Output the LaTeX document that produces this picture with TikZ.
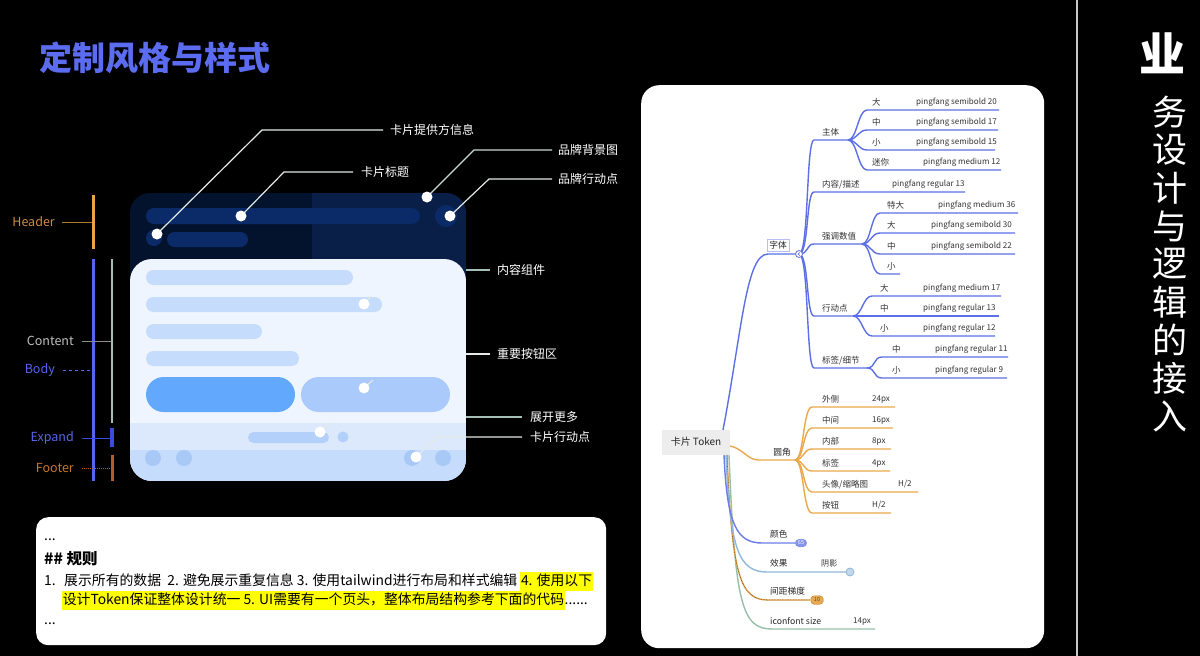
\documentclass[tikz,border=0pt]{standalone}
\usepackage{fontspec}
\setmainfont{Noto Sans CJK SC}
\usetikzlibrary{calc}
\definecolor{titlec}{HTML}{5B6CF0}
\definecolor{hdrL}{HTML}{03132E}
\definecolor{hdrR}{HTML}{0A1F48}
\definecolor{hbar}{HTML}{0B2A68}
\definecolor{bodyc}{HTML}{EEF5FE}
\definecolor{expc}{HTML}{DCE9FD}
\definecolor{footc}{HTML}{C6DCFC}
\definecolor{cbar}{HTML}{C5DCFC}
\definecolor{btnA}{HTML}{62A9FD}
\definecolor{btnB}{HTML}{A9CAFB}
\definecolor{fcirc}{HTML}{A8C8F6}
\definecolor{leadc}{HTML}{E2EAE6}
\definecolor{greenl}{HTML}{A6BFB5}
\definecolor{hdrorange}{HTML}{E8A447}
\definecolor{hdrtext}{HTML}{D08A3C}
\definecolor{bodyblue}{HTML}{5566EE}
\definecolor{expblue}{HTML}{3A4BE0}
\definecolor{footbrown}{HTML}{B85C22}
\definecolor{foottext}{HTML}{C8782A}
\definecolor{mmblue}{HTML}{5C6FE6}
\definecolor{mmorange}{HTML}{E9A84C}
\definecolor{mmlblue}{HTML}{90B8D8}
\definecolor{mmgreen}{HTML}{98C0A8}
\definecolor{mmtext}{HTML}{333333}
\definecolor{rootc}{HTML}{EDEDED}
\definecolor{hly}{HTML}{FFFF00}
\definecolor{sepc}{HTML}{C8C8C8}
\newcommand{\hlbox}[1]{{\setlength{\fboxsep}{0.6pt}\colorbox{hly}{\strut #1}}}
\newcommand{\mmgroup}[6]{%
  \foreach \i/\yy/\lab/\vx/\val/\ex in {#6}{
    \coordinate (#1\i s) at (#3,\yy);
    \coordinate (#1\i e) at (\ex,\yy);
    \draw[#5] (#2) .. controls +(9,0) and +(-9,0) .. (#1\i s) -- (#1\i e);
    \node[mmlab] (#1\i l) at (#4,\yy-7.5) {\lab};
    \node[mmval] (#1\i v) at (\vx,\yy-7.5) {\val};
  }}
\tikzset{
  clab/.style={anchor=west, inner sep=0, text=white, font=\fontsize{12}{14}\selectfont},
  sidelab/.style={anchor=east, inner sep=0, font=\fontsize{12.5}{14}\selectfont},
  lead/.style={draw=leadc, line width=1.2},
  wdot/.style={circle, fill=white, minimum size=11, inner sep=0},
  mmlab/.style={anchor=west, inner sep=0, font=\fontsize{8.5}{10}\selectfont, text=mmtext},
  mmval/.style={anchor=west, inner sep=0, font=\fontsize{8.05}{10}\selectfont, text=mmtext},
  mmcat/.style={anchor=west, inner sep=0, font=\fontsize{8.7}{10}\selectfont, text=black!85},
  bl/.style={draw=mmblue, line width=1.4},
  orl/.style={draw=mmorange, line width=1.4},
  rulestxt/.style={anchor=base west, inner sep=0, text=black, font=\fontsize{13.85}{18}\selectfont},
}
\begin{document}
\begin{tikzpicture}[x=1pt,y=-1pt]
\useasboundingbox (0,0) rectangle (1200,656);
\fill[black] (0,0) rectangle (1200,656);

% ---------- title ----------
\node[anchor=west, inner sep=0, text=titlec, font=\fontsize{33}{36}\selectfont\bfseries] (title) at (39,58) {定制风格与样式};

% ---------- sidebar ----------
\draw[sepc, line width=1.5] (1077,0) -- (1077,656);
\node[text=white, font=\fontsize{46}{46}\selectfont\bfseries, inner sep=0] (ye) at (1162,53) {业};
\foreach \c [count=\k from 0] in {务,设,计,与,逻,辑,的,接,入}{
  \node[text=white, font=\fontsize{35}{35}\selectfont, inner sep=0] (sb\k) at (1170,{112+38*\k}) {\c};
}

% ---------- header card ----------
\begin{scope}
  \clip[rounded corners=20] (130,193) rectangle (466,340);
  \fill[hdrL] (130,193) rectangle (312,340);
  \fill[hdrR] (312,193) rectangle (466,340);
\end{scope}
\fill[hbar, rounded corners=8] (146,208) rectangle (420,224);
\fill[hbar] (446,216) circle (11);
\fill[hbar] (154,238) circle (8);
\fill[hbar, rounded corners=7.5] (167,232) rectangle (248,247);

% ---------- body card ----------
\begin{scope}
  \clip[rounded corners=22] (130,259) rectangle (466,481);
  \fill[bodyc] (130,259) rectangle (466,481);
  \fill[expc] (130,423) rectangle (466,450);
  \fill[footc] (130,450) rectangle (466,481);
\end{scope}
\fill[cbar, rounded corners=7.5] (146,270) rectangle (353,285);
\fill[cbar, rounded corners=7.5] (146,297) rectangle (382,312);
\fill[cbar, rounded corners=7.5] (146,324) rectangle (262,339);
\fill[cbar, rounded corners=7.5] (146,351) rectangle (299,366);
\fill[btnA, rounded corners=17.5] (146,377) rectangle (295,412);
\fill[btnB, rounded corners=17.5] (301,377) rectangle (450,412);
\fill[btnB!80!expc, rounded corners=5.5] (248,432) rectangle (329,443);
\fill[btnB!80!expc] (343,437) circle (5.5);
\foreach \fx in {153,184,412,443} \fill[fcirc] (\fx,458) circle (8);

% ---------- card leaders ----------
\coordinate (d1) at (157,234); \coordinate (k1a) at (262,130); \coordinate (k1b) at (383,130);
\coordinate (d2) at (241,216); \coordinate (k2a) at (284,172); \coordinate (k2b) at (353,172);
\coordinate (d3) at (427,197); \coordinate (k3a) at (474,150); \coordinate (k3b) at (552,150);
\coordinate (d4) at (450,216); \coordinate (k4a) at (489,179); \coordinate (k4b) at (552,179);
\draw[lead] (d1) -- (k1a) -- (k1b);
\draw[lead] (d2) -- (k2a) -- (k2b);
\draw[lead, draw=greenl!60!white] (d3) -- (k3a) -- (k3b);
\draw[lead] (d4) -- (k4a) -- (k4b);
\node[clab] (t1) at (390,130) {卡片提供方信息};
\node[clab] (t2) at (361,172) {卡片标题};
\node[clab] (t3) at (558,150) {品牌背景图};
\node[clab] (t4) at (558,179) {品牌行动点};

\coordinate (k5a) at (466,270); \coordinate (k5b) at (490,270);
\coordinate (d5) at (364,304); \coordinate (k5c) at (371,296);
\coordinate (k6a) at (466,354); \coordinate (k6b) at (490,354);
\coordinate (d6) at (364,388); \coordinate (k6c) at (373,380);
\coordinate (k7a) at (466,417); \coordinate (k7b) at (522,417);
\coordinate (d7) at (320,432); \coordinate (k7c) at (330,423);
\coordinate (d8) at (416,457); \coordinate (k8a) at (437,437); \coordinate (k8b) at (522,437);
\draw[lead, draw=greenl] (k5a) -- (k5b);
\draw[lead] (d5) -- (k5c);
\draw[lead] (k6a) -- (k6b);
\draw[lead] (d6) -- (k6c);
\draw[lead, draw=greenl] (k7a) -- (k7b);
\draw[lead] (d7) -- (k7c);
\draw[lead] (d8) -- (k8a) -- (k8b);
\node[clab] (t5) at (497,270) {内容组件};
\node[clab] (t6) at (497,354) {重要按钮区};
\node[clab] (t7) at (530,417) {展开更多};
\node[clab] (t8) at (530,437) {卡片行动点};
\foreach \d in {d1,d2,d3,d4,d5,d6,d7,d8} \node[wdot] (\d w) at (\d) {};

% ---------- left brackets ----------
\draw[hdrorange, line width=3] (93,195) -- (93,249);
\draw[bodyblue, line width=3] (93,259) -- (93,481);
\draw[greenl, line width=2.5] (112,259) -- (112,423);
\draw[expblue, line width=4] (112,428) -- (112,447);
\draw[footbrown, line width=3] (112,455) -- (112,481);
\node[sidelab, text=hdrtext] (lhd) at (55,222) {Header};
\node[sidelab, text=black!25] (lct) at (74,341) {Content};
\node[sidelab, text=bodyblue] (lbd) at (55,370) {Body};
\node[sidelab, text=expblue!85!white] (lex) at (74,438) {Expand};
\node[sidelab, text=foottext] (lft) at (74,468) {Footer};
\coordinate (h1) at (62,222); \coordinate (h2) at (92,222);
\coordinate (c1) at (82,341); \coordinate (c2) at (111,341);
\coordinate (b1) at (63,370); \coordinate (b2) at (92,370);
\coordinate (e1) at (82,438); \coordinate (e2) at (111,438);
\coordinate (f1) at (82,468); \coordinate (f2) at (111,468);
\draw[hdrorange!75!black, line width=0.9] (h1) -- (h2);
\draw[black!45, line width=0.9] (c1) -- (c2);
\draw[bodyblue, line width=0.9, dashed] (b1) -- (b2);
\draw[expblue, line width=0.9] (e1) -- (e2);
\draw[footbrown, line width=0.9, densely dotted] (f1) -- (f2);

% ---------- rules box ----------
\node[fill=white, rounded corners=12, minimum width=570, minimum height=128, inner sep=0, anchor=north west] (rules) at (36,517) {};
\node[rulestxt] (r0) at (44,540) {...};
\node[rulestxt, font=\fontsize{15.5}{18}\selectfont\bfseries] (r1) at (44,564) {\#\# 规则};
\node[rulestxt] (r2a) at (44,585) {1.};
\node[rulestxt] (r2) at (64,585) {展示所有的数据\ \ 2. 避免展示重复信息 3. 使用tailwind进行布局和样式编辑 \hlbox{4. 使用以下}};
\node[rulestxt] (r3) at (62,604) {\hlbox{设计Token保证整体设计统一 5. UI需要有一个页头，整体布局结构参考下面的代码}......};
\node[rulestxt] (r4) at (44,624) {...};

% ---------- mind map panel ----------
\node[fill=white, rounded corners=18, minimum width=403, minimum height=563, inner sep=0, anchor=north west] (mmpanel) at (641,85) {};

% root
\node[fill=rootc, minimum width=68, minimum height=25, inner sep=0, font=\fontsize{10}{12}\selectfont, text=black!85] (root) at (696,442) {卡片 Token};

% 字体 branch
\coordinate (r1) at (723,430);
\coordinate (zt0) at (768,254);
\coordinate (zh) at (799,254);
\draw[bl] (r1) .. controls +(19,-100) and +(-22,0) .. (zt0) -- (zh);
\node[draw=mmblue!45, fill=white, inner sep=2, font=\fontsize{8.7}{10}\selectfont, text=black!85] (ziti) at (778,245) {字体};

\coordinate (zAs) at (814,140); \coordinate (zAh) at (848,140);
\coordinate (zBs) at (814,192); \coordinate (zBe) at (965,192);
\coordinate (zCs) at (814,244); \coordinate (zCh) at (862,244);
\coordinate (zDs) at (814,316); \coordinate (zDh) at (853,316);
\coordinate (zEs) at (814,368); \coordinate (zEh) at (867,368);
\foreach \p/\q in {zAs/zAh, zBs/zBe, zCs/zCh, zDs/zDh, zEs/zEh}
  \draw[bl] (zh) .. controls +(10,0) and +(-8,0) .. (\p) -- (\q);
\node[mmlab] (zAl) at (822,132.5) {主体};
\node[mmlab] (zBl) at (822,184.5) {内容/描述};
\node[mmval] (zBv) at (892,184.5) {pingfang regular 13};
\node[mmlab] (zCl) at (822,236.5) {强调数值};
\node[mmlab] (zDl) at (822,308.5) {行动点};
\node[mmlab] (zEl) at (822,360.5) {标签/细节};

\mmgroup{ga}{zAh}{867}{872}{bl}{1/110/大/916/pingfang semibold 20/999, 2/130/中/916/pingfang semibold 17/998, 3/150/小/916/pingfang semibold 15/995, 4/170/迷你/923/pingfang medium 12/1001}
\mmgroup{gc}{zCh}{880}{887}{bl}{1/213/特大/938/pingfang medium 36/1018, 2/233/大/931/pingfang semibold 30/1015, 3/254/中/931/pingfang semibold 22/1015, 4/274/小/931/{}/900}
\mmgroup{gd}{zDh}{872}{880}{bl}{1/296/大/923/pingfang medium 17/1001, 2/316/中/923/pingfang regular 13/999, 3/336/小/923/pingfang regular 12/995}
\mmgroup{ge}{zEh}{882}{892}{bl}{1/357/中/935/pingfang regular 11/1008, 2/378/小/935/pingfang regular 9/1007}

\node[circle, draw=mmblue, fill=white, line width=0.8, minimum size=7, inner sep=0] (zhc) at (zh) {};
\draw[mmblue, line width=0.6] ($(zh)+(1,-1.6)$) -- ($(zh)+(-1,0)$) -- ($(zh)+(1,1.6)$);

% 圆角 branch
\coordinate (r2) at (730,446);
\coordinate (yt0) at (758,460);
\coordinate (yh) at (795,460);
\draw[orl] (r2) .. controls +(12,2) and +(-10,0) .. (yt0) -- (yh);
\node[mmcat, anchor=center] (yuan) at (782,452) {圆角};
\mmgroup{gy}{yh}{812}{822}{orl}{1/407/外侧/872/24px/895, 2/428/中间/872/16px/893, 3/449/内部/872/8px/891, 4/471/标签/872/4px/890, 5/492/{头像/缩略图}/898/{H/2}/918, 6/513/按钮/872/{H/2}/891}

% lower branches
\coordinate (r3) at (724,455); \coordinate (c3s) at (762,543); \coordinate (c3e) at (795,543);
\coordinate (r4) at (726,455); \coordinate (c4s) at (767,572); \coordinate (c4e) at (846,572);
\coordinate (r5) at (727,455); \coordinate (c5s) at (768,600); \coordinate (c5e) at (810,600);
\coordinate (r6) at (729,455); \coordinate (c6s) at (772,629); \coordinate (c6e) at (875,629);
\draw[mmgreen, line width=1.4] (r6) .. controls +(6,150) and +(-30,0) .. (c6s) -- (c6e);
\draw[mmorange, line width=1.4] (r5) .. controls +(5,120) and +(-28,0) .. (c5s) -- (c5e);
\draw[black!60!mmorange, line width=0.6, densely dotted] (r5) .. controls +(5,120) and +(-28,0) .. (c5s) -- (c5e);
\draw[mmlblue, line width=1.4] (r4) .. controls +(4,95) and +(-28,0) .. (c4s) -- (c4e);
\draw[mmblue!90!white, line width=1.4] (r3) .. controls +(3,70) and +(-25,0) .. (c3s) -- (c3e);
\node[mmcat] (col) at (770,534.5) {颜色};
\node[mmcat] (eff) at (770,563.5) {效果};
\node[mmval] (effv) at (821,563.5) {阴影};
\node[mmcat] (gap) at (770,591.5) {间距梯度};
\node[mmcat] (icf) at (770,621.5) {iconfont size};
\node[mmval] (icfv) at (853,621.5) {14px};
\node[fill=mmblue!75!white, rounded corners=4, minimum width=12, minimum height=8, inner sep=0, font=\fontsize{5.5}{6}\selectfont, text=white] (b65) at (801,543) {65};
\node[circle, fill=mmlblue!55!white, draw=mmlblue, line width=0.8, minimum size=8, inner sep=0] (b3) at (850,572) {};
\node[fill=mmorange, draw=black!60!mmorange, densely dotted, rounded corners=4, minimum width=13, minimum height=9, inner sep=0, font=\fontsize{5.5}{6}\selectfont, text=black!70] (b10) at (817,600) {10};
\end{tikzpicture}
\end{document}
